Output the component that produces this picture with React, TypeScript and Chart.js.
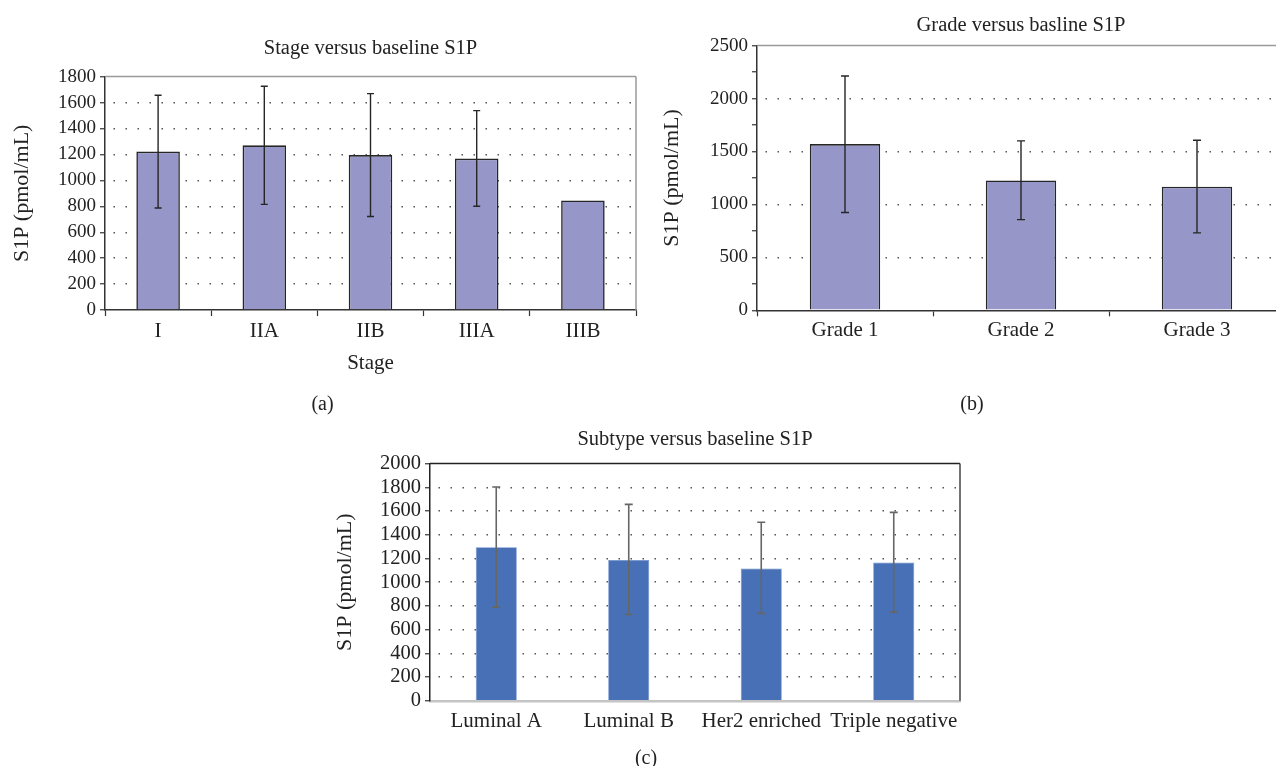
import React, { useEffect, useRef } from 'react';
import { Chart, registerables } from 'chart.js';

Chart.register(...registerables);

// ---- Data ----
const stageLabels = ['I', 'IIA', 'IIB', 'IIIA', 'IIIB'];
const stageMeans = [1222, 1270, 1195, 1168, 845];
const stageErrHigh = [1656, 1726, 1669, 1538, null];
const stageErrLow = [787, 815, 721, 800, null];
const stageAxisMax = 1800;
const stageStep = 200;

const gradeLabels = ['Grade 1', 'Grade 2', 'Grade 3'];
const gradeMeans = [1570, 1227, 1168];
const gradeErrHigh = [2213, 1600, 1606];
const gradeErrLow = [924, 856, 731];
const gradeAxisMax = 2500;
const gradeStep = 250;
const gradeLabelEvery = 500;

const subtypeLabels = ['Luminal A', 'Luminal B', 'Her2 enriched', 'Triple negative'];
const subtypeMeans = [1295, 1188, 1116, 1166];
const subtypeErrHigh = [1803, 1656, 1505, 1589];
const subtypeErrLow = [790, 728, 737, 748];
const subtypeAxisMax = 2000;
const subtypeStep = 200;

const FONT = "'Liberation Serif', 'Times New Roman', serif";
const TEXT = '#222';

type Panel = {
  left: number; top: number; width: number; height: number;
  labels: string[]; values: number[]; high: (number | null)[]; low: (number | null)[];
  max: number; step: number; labelEvery?: number;
  title: string; panel: string; xTitle?: string;
  fill: string; border: string; borderWidth: number; barPct: number;
  errColor: string; errWidth: number; capHalf: number;
  padL: number; padR: number; yWidth: number; yTickSize: number;
  titlePt: number; titlePb: number; subPt: number; subPb: number;
  xTickLen: number; xTickPad: number; xTitlePt?: number;
  xBorderColor: string; xBorderWidth: number;
  yBorderColor: string; topColor: string; rightColor: string;
};

function buildConfig(p: Panel): any {
  const errorBars = {
    id: 'errorBars',
    afterDatasetsDraw(chart: any) {
      const meta = chart.getDatasetMeta(0);
      const ys = chart.scales.y;
      const ctx = chart.ctx;
      ctx.save();
      ctx.strokeStyle = p.errColor;
      ctx.lineWidth = p.errWidth;
      meta.data.forEach((el: any, i: number) => {
        const hi = p.high[i];
        const lo = p.low[i];
        if (hi == null || lo == null) return;
        const x = el.x;
        const yh = ys.getPixelForValue(hi);
        const yl = ys.getPixelForValue(lo);
        ctx.beginPath();
        ctx.moveTo(x, yh); ctx.lineTo(x, yl);
        ctx.moveTo(x - p.capHalf, yh); ctx.lineTo(x + p.capHalf, yh);
        ctx.moveTo(x - p.capHalf, yl); ctx.lineTo(x + p.capHalf, yl);
        ctx.stroke();
      });
      ctx.restore();
    },
  };
  const frame = {
    id: 'frame',
    beforeDatasetsDraw(chart: any) {
      const a = chart.chartArea;
      const ctx = chart.ctx;
      ctx.save();
      ctx.lineWidth = 1.5;
      ctx.strokeStyle = p.topColor;
      ctx.beginPath();
      ctx.moveTo(a.left, a.top); ctx.lineTo(a.right, a.top);
      ctx.stroke();
      ctx.strokeStyle = p.rightColor;
      ctx.beginPath();
      ctx.moveTo(a.right, a.top); ctx.lineTo(a.right, a.bottom);
      ctx.stroke();
      ctx.restore();
    },
  };
  const tickFont = { family: FONT, size: p.yTickSize };
  const labelFont = { family: FONT, size: 21 };
  const axisTitleFont = { family: FONT, size: 22 };
  return {
    type: 'bar',
    data: {
      labels: p.labels,
      datasets: [{
        data: p.values,
        backgroundColor: p.fill,
        borderColor: p.border,
        borderWidth: p.borderWidth,
        barPercentage: p.barPct,
        categoryPercentage: 1,
      }],
    },
    options: {
      animation: false,
      responsive: false,
      maintainAspectRatio: false,
      devicePixelRatio: 1,
      layout: { padding: { left: p.padL, right: p.padR, top: 0, bottom: 0 } },
      plugins: {
        legend: { display: false },
        tooltip: { enabled: false },
        title: {
          display: true, text: p.title, fullSize: false, color: TEXT,
          font: { family: FONT, size: 20.5, weight: 'normal' },
          padding: { top: p.titlePt, bottom: p.titlePb },
        },
        subtitle: {
          display: true, position: 'bottom', text: p.panel, color: TEXT,
          font: { family: FONT, size: 20, weight: 'normal' },
          padding: { top: p.subPt, bottom: p.subPb },
        },
      },
      scales: {
        x: {
          offset: true,
          grid: {
            display: true, drawOnChartArea: false, drawTicks: p.xTickLen > 0,
            tickLength: p.xTickLen, tickColor: '#333', tickWidth: 1.2, offset: true,
          },
          border: { display: true, color: p.xBorderColor, width: p.xBorderWidth },
          ticks: { font: labelFont, color: TEXT, padding: p.xTickPad, maxRotation: 0, autoSkip: false },
          title: p.xTitle
            ? { display: true, text: p.xTitle, font: labelFont, color: TEXT, padding: { top: p.xTitlePt || 0, bottom: 0 } }
            : { display: false },
        },
        y: {
          min: 0, max: p.max,
          afterFit: (s: any) => { s.width = p.yWidth; },
          grid: {
            drawOnChartArea: true, drawTicks: true, tickLength: 5,
            tickColor: '#333', tickWidth: 1.2, lineWidth: 1.5,
            color: (c: any) => {
              const v = c.tick ? c.tick.value : 0;
              if (v === 0 || v === p.max) return 'rgba(0,0,0,0)';
              if (p.labelEvery && v % p.labelEvery !== 0) return 'rgba(0,0,0,0)';
              return '#555';
            },
          },
          border: { display: true, color: p.yBorderColor, width: 1.5, dash: [1.5, 10.5], dashOffset: -8 },
          ticks: {
            stepSize: p.step, autoSkip: false, font: tickFont, color: TEXT, padding: 4,
            callback: (v: any) => (p.labelEvery && v % p.labelEvery !== 0 ? '' : String(v)),
          },
          title: { display: true, text: 'S1P (pmol/mL)', font: axisTitleFont, color: TEXT, padding: { top: 0, bottom: 0 } },
        },
      },
    },
    plugins: [frame, errorBars],
  };
}

const panels: Panel[] = [
  {
    left: 0, top: 25, width: 646, height: 395,
    labels: stageLabels, values: stageMeans, high: stageErrHigh, low: stageErrLow,
    max: stageAxisMax, step: stageStep,
    title: 'Stage versus baseline S1P', panel: '(a)', xTitle: 'Stage',
    fill: '#9696c8', border: '#262626', borderWidth: 1.6, barPct: 0.41,
    errColor: '#262626', errWidth: 1.4, capHalf: 3.5,
    padL: 9, padR: 10, yWidth: 96, yTickSize: 19,
    titlePt: 11, titlePb: 16, subPt: 16.5, subPb: 3,
    xTickLen: 6, xTickPad: 2.5, xTitlePt: 5,
    xBorderColor: '#333', xBorderWidth: 1.5, yBorderColor: '#333',
    topColor: '#9a9a9a', rightColor: '#9a9a9a',
  },
  {
    left: 650, top: 0, width: 650, height: 420,
    labels: gradeLabels, values: gradeMeans, high: gradeErrHigh, low: gradeErrLow,
    max: gradeAxisMax, step: gradeStep, labelEvery: gradeLabelEvery,
    title: 'Grade versus basline S1P', panel: '(b)',
    fill: '#9696c8', border: '#262626', borderWidth: 1.6, barPct: 0.4,
    errColor: '#262626', errWidth: 1.4, capHalf: 4,
    padL: 9, padR: 15, yWidth: 98, yTickSize: 19,
    titlePt: 13, titlePb: 8, subPt: 47.5, subPb: 3,
    xTickLen: 6, xTickPad: 2,
    xBorderColor: '#333', xBorderWidth: 1.5, yBorderColor: '#333',
    topColor: '#9a9a9a', rightColor: '#9a9a9a',
  },
  {
    left: 330, top: 420, width: 645, height: 354,
    labels: subtypeLabels, values: subtypeMeans, high: subtypeErrHigh, low: subtypeErrLow,
    max: subtypeAxisMax, step: subtypeStep,
    title: 'Subtype versus baseline S1P', panel: '(c)',
    fill: '#4770b6', border: '#6d8fcc', borderWidth: 0.8, barPct: 0.31,
    errColor: '#666', errWidth: 1.6, capHalf: 4,
    padL: 2, padR: 15, yWidth: 98, yTickSize: 20.5,
    titlePt: 7, titlePb: 12, subPt: 5, subPb: 3,
    xTickLen: 0, xTickPad: 8,
    xBorderColor: '#c4c4c4', xBorderWidth: 2.5, yBorderColor: '#222',
    topColor: '#222', rightColor: '#444',
  },
];

function PanelChart({ p }: { p: Panel }) {
  const ref = useRef<HTMLCanvasElement | null>(null);
  useEffect(() => {
    if (!ref.current) return;
    const chart = new Chart(ref.current, buildConfig(p));
    return () => chart.destroy();
  }, [p]);
  return (
    <canvas
      ref={ref}
      width={p.width}
      height={p.height}
      style={{ position: 'absolute', left: p.left, top: p.top, width: p.width, height: p.height, display: 'block' }}
    />
  );
}

export default function App() {
  return (
    <div style={{ position: 'absolute', left: 0, top: 0, width: 1276, height: 766, overflow: 'hidden', background: '#fff' }}>
      {panels.map((p, i) => (
        <PanelChart key={i} p={p} />
      ))}
    </div>
  );
}
